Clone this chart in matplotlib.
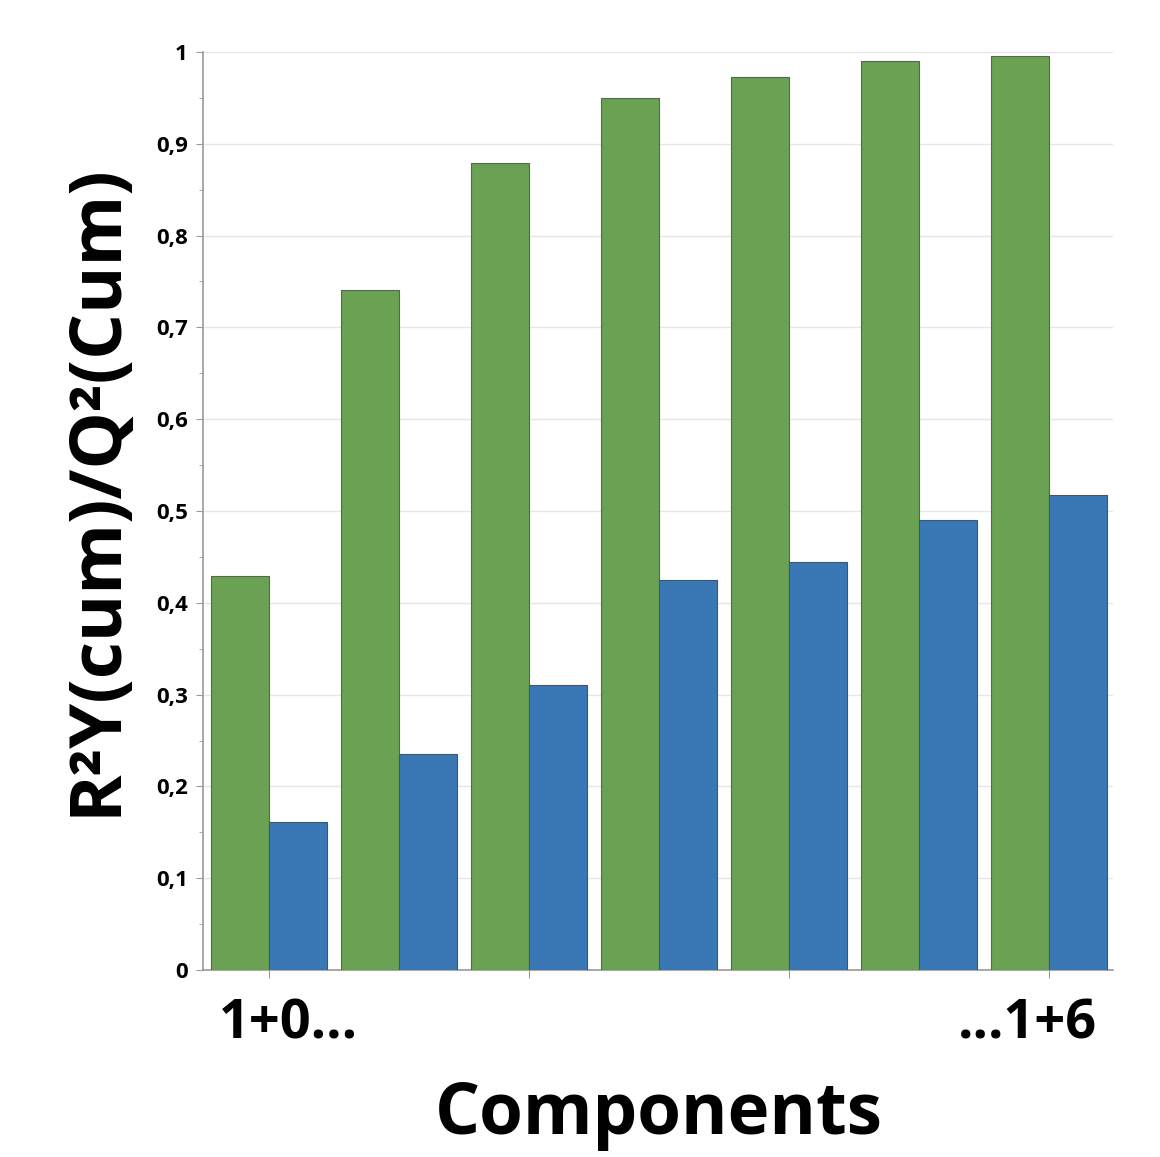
import numpy as np
import matplotlib
matplotlib.use('Agg')
import matplotlib.pyplot as plt
from matplotlib.ticker import MultipleLocator, FuncFormatter

# ========== Данные ==========
components = ['1+0', '1+1', '1+2', '1+3', '1+4', '1+5', '1+6']
r2y_cum = [0.429, 0.741, 0.879, 0.950, 0.973, 0.990, 0.996]
q2_cum = [0.161, 0.235, 0.310, 0.425, 0.444, 0.490, 0.517]
first_label = '1+0...'
last_label = '...1+6'

plt.rcParams['font.family'] = ['Open Sans', 'DejaVu Sans']

fig = plt.figure(figsize=(11.6, 11.57), dpi=100)
ax = fig.add_axes([0.175, 0.1616, 0.7845, 0.7935])

x = np.arange(len(components))
width = 0.446
ax.bar(x - width / 2, r2y_cum, width, color='#6aa152', edgecolor='#4d6e3e', linewidth=0.8, zorder=3)
ax.bar(x + width / 2, q2_cum, width, color='#3a77b5', edgecolor='#2f5a86', linewidth=0.8, zorder=3)

ax.set_xlim(-0.508, 6.49)
ax.set_ylim(0, 1)

# оси и сетка
ax.yaxis.set_major_locator(MultipleLocator(0.1))
ax.yaxis.set_minor_locator(MultipleLocator(0.05))
ax.yaxis.set_major_formatter(FuncFormatter(lambda v, p: ('%g' % round(v, 2)).replace('.', ',')))
ax.grid(axis='y', color='#e6e6e6', linewidth=1, zorder=0)
ax.set_xticks(x[::2])
ax.set_xticklabels([])
for s in ['top', 'right']:
    ax.spines[s].set_visible(False)
for s in ['left', 'bottom']:
    ax.spines[s].set_color('#9a9a9a')
    ax.spines[s].set_linewidth(1.2)
ax.tick_params(axis='y', which='major', length=5, color='#9a9a9a', labelsize=16, pad=6)
ax.tick_params(axis='y', which='minor', length=3, color='#9a9a9a')
ax.tick_params(axis='x', length=6, color='#9a9a9a')
for t in ax.get_yticklabels():
    t.set_fontweight('bold')

ax.text(-0.39, -0.03, first_label, transform=ax.get_xaxis_transform(), ha='left', va='top',
        fontsize=39, fontweight='bold')
ax.text(6.37, -0.03, last_label, transform=ax.get_xaxis_transform(), ha='right', va='top',
        fontsize=39, fontweight='bold')

fig.text(0.568, 0.036, 'Components', ha='center', va='center', fontsize=51, fontweight='bold')
fig.text(0.083, 0.5765, 'R²Y(cum)/Q²(Cum)', ha='center', va='center', rotation=90,
         fontsize=52, fontweight='bold')

fig.savefig('out.png', dpi=100)
